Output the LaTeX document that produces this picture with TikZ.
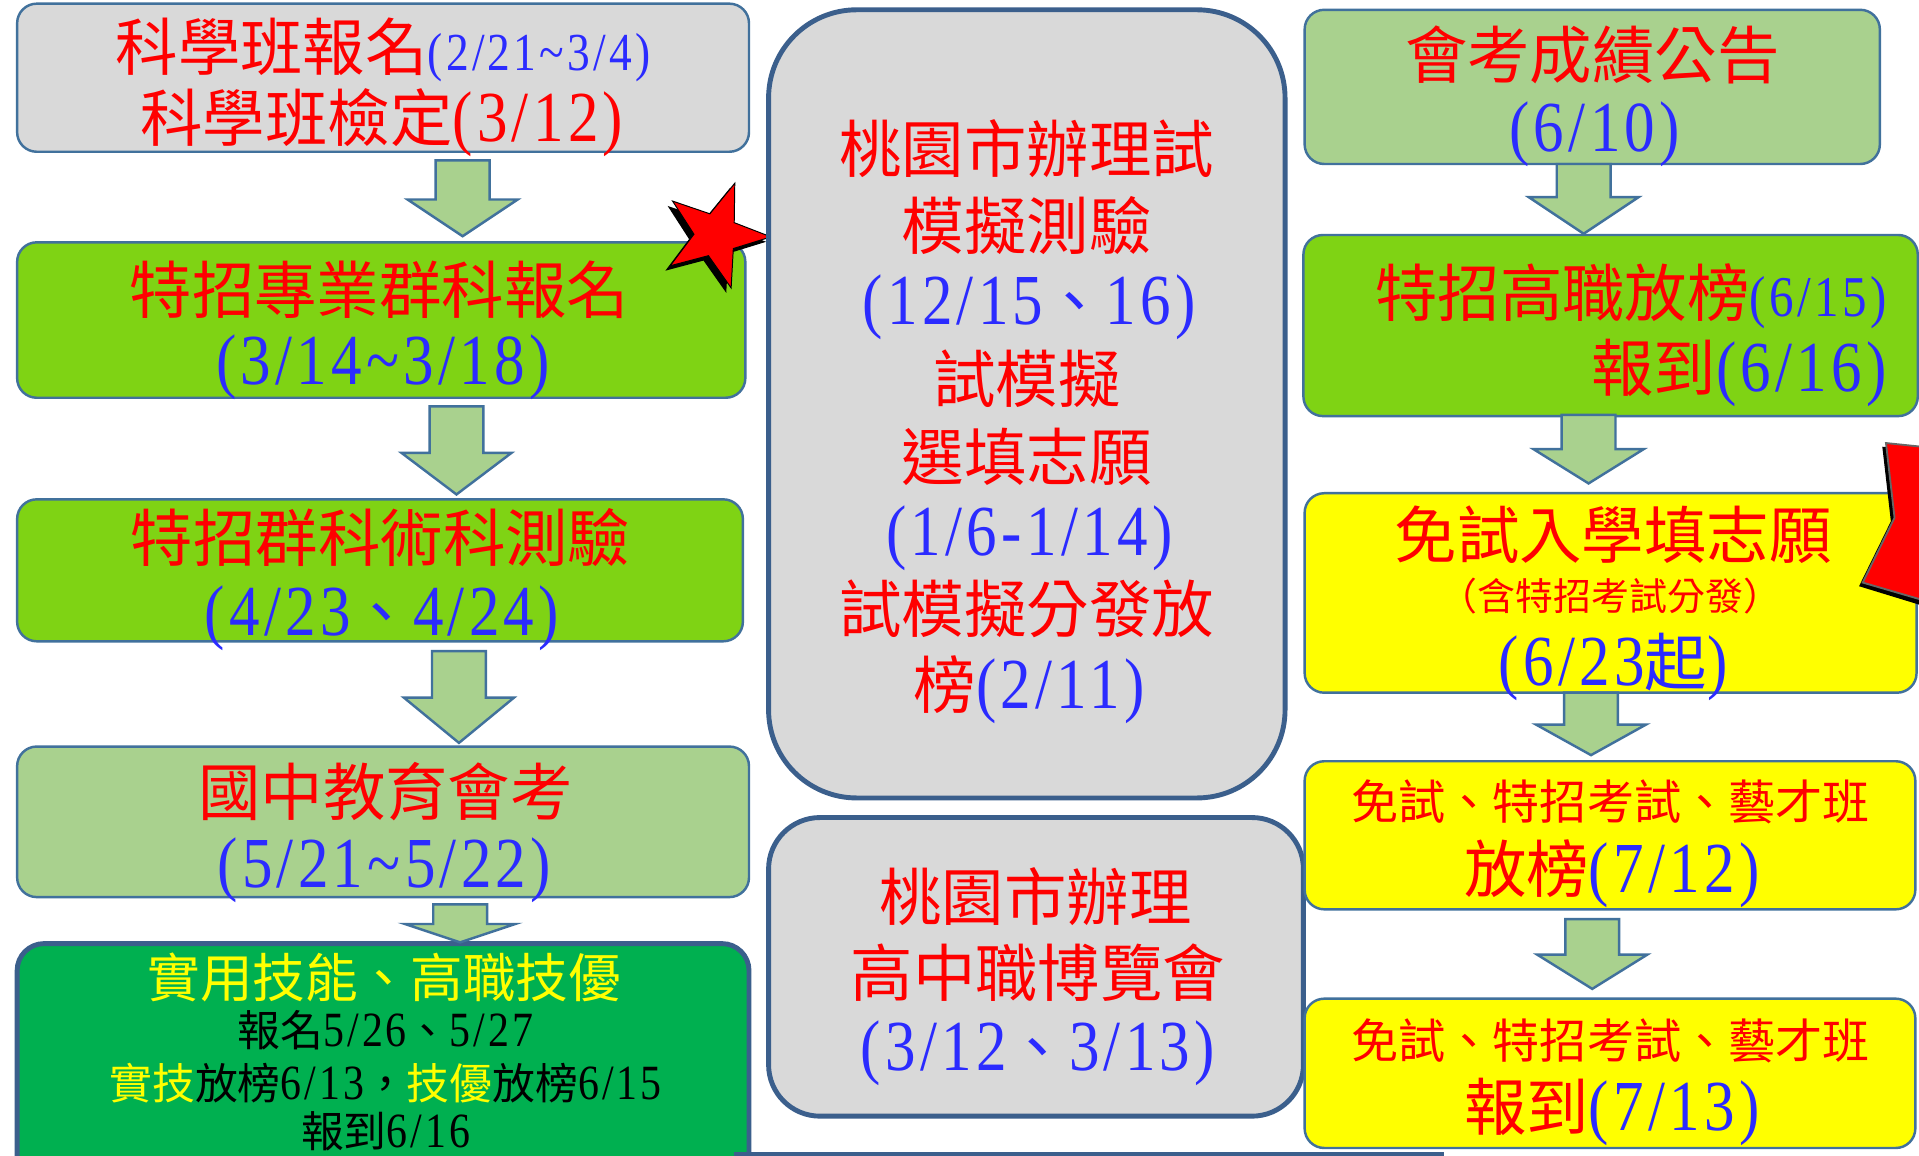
\documentclass[tikz,border=0pt]{standalone}
\usepackage{fontspec}
\setmainfont{Noto Sans CJK TC}
\newfontfamily\nf[FakeStretch=0.85,Scale=1.15,LetterSpace=6]{Liberation Serif}
\definecolor{bordc}{HTML}{41719C}
\definecolor{thickc}{HTML}{3B5F8C}
\definecolor{grayf}{HTML}{D9D9D9}
\definecolor{greenf}{HTML}{7FD314}
\definecolor{lgreenf}{HTML}{A9D18E}
\definecolor{dgreenf}{HTML}{00B050}
\definecolor{tblue}{HTML}{2B2BFF}
\definecolor{yell}{HTML}{FFFF00}
\newcommand\txr[1]{\textcolor{red}{#1}}
\newcommand\txn[1]{{\nf #1}}
\newcommand\txb[1]{\textcolor{tblue}{\nf #1}}
\newcommand\txbc[1]{\textcolor{tblue}{#1}}
\newcommand\txy[1]{\textcolor{yell}{#1}}
\newcommand\blockarrow[4]{% cx, top, headstart, tip
  \draw[barrow] (#1-22,#2) -- (#1+22,#2) -- (#1+22,#3) -- (#1+45,#3) -- (#1,#4) -- (#1-45,#3) -- (#1-22,#3) -- cycle;}
\begin{document}
\begin{tikzpicture}[x=1pt,y=-1pt,
  box/.style={draw=bordc, line width=2pt, rounded corners=16pt, inner sep=0pt, outer sep=0pt},
  bigbox/.style={draw=thickc, line width=4pt, inner sep=0pt, outer sep=0pt},
  barrow/.style={fill=lgreenf, draw=bordc, line width=2pt, line join=miter},
  tl/.style={inner sep=0pt, anchor=base, font=\fontsize{51}{60}\selectfont},
  tm/.style={inner sep=0pt, anchor=base, font=\fontsize{43}{50}\selectfont},
  tk/.style={inner sep=0pt, anchor=base, font=\fontsize{38.5}{45}\selectfont},
  ts/.style={inner sep=0pt, anchor=base, font=\fontsize{35}{40}\selectfont},
  tx/.style={inner sep=0pt, anchor=base, font=\fontsize{31}{36}\selectfont}]
\useasboundingbox (0,0) rectangle (1568,944);
\fill[white] (0,0) rectangle (1568,944);

% ---------- left column ----------
\node[box, fill=grayf, minimum width=598pt, minimum height=121pt] (b1) at (313,63.5) {};
\node[box, fill=greenf, minimum width=595pt, minimum height=127pt] (b2) at (311.5,261.5) {};
\node[box, fill=greenf, minimum width=593pt, minimum height=116pt] (b3) at (310.5,466) {};
\node[box, fill=lgreenf, minimum width=598pt, minimum height=123pt] (b4) at (313,671.5) {};
\node[bigbox, rounded corners=22pt, fill=dgreenf, minimum width=598pt, minimum height=205pt] (b5) at (313,873.5) {};

\blockarrow{378}{131}{163}{193}
\blockarrow{373}{332}{370}{404}
\blockarrow{375}{532}{570}{607}
\blockarrow{376}{739}{755}{770}

\node[tl] (b1a) at (313,58) {\txr{科學班報名}{\fontsize{38}{42}\selectfont\txb{(2/21\textasciitilde3/4)}}};
\node[tl] (b1b) at (312,116) {\txr{科學班檢定\txn{(3/12)}}};
\node[tl] (b2a) at (310,256) {\txr{特招專業群科報名}};
\node[tl] (b2b) at (313,314) {\txb{(3/14\textasciitilde3/18)}};
\node[tl] (b3a) at (311,459) {\txr{特招群科術科測驗}};
\node[tl] (b3b) at (312,519) {\txb{(4/23}\txbc{、}\txb{4/24)}};
\node[tl] (b4a) at (315,666) {\txr{國中教育會考}};
\node[tl] (b4b) at (314,725) {\txb{(5/21\textasciitilde5/22)}};
\node[tm] (b5a) at (314,815) {\txy{實用技能、高職技優}};
\node[ts] (b5b) at (315,855) {報名\txn{5/26}、\txn{5/27}};
\node[ts] (b5c) at (315,898) {\txy{實技}放榜\txn{6/13}，\txy{技優}放榜\txn{6/15}};
\node[ts] (b5d) at (315,938) {報到\txn{6/16}};

% star
\fill[black] (581,196) +(-70:45) -- +(-106:18) -- +(-142:45) -- +(-178:18) -- +(-214:45) -- +(-250:18) -- +(-286:45) -- +(-322:18) -- +(-358:45) -- +(-394:18) -- cycle;
\filldraw[fill=red, draw=black, line width=0.8pt] (585,192) +(-70:45) -- +(-106:18) -- +(-142:45) -- +(-178:18) -- +(-214:45) -- +(-250:18) -- +(-286:45) -- +(-322:18) -- +(-358:45) -- +(-394:18) -- cycle;

% ---------- center column ----------
\node[bigbox, rounded corners=72pt, fill=grayf, minimum width=422pt, minimum height=644pt] (c1) at (839,330) {};
\node[bigbox, rounded corners=42pt, fill=grayf, minimum width=437pt, minimum height=244pt] (c2) at (846.5,790) {};
\draw[thickc, line width=3pt] (600,943) -- (1180,943);

\node[tl] (c1a) at (839,141) {\txr{桃園市辦理試}};
\node[tl] (c1b) at (839,204) {\txr{模擬測驗}};
\node[tl] (c1c) at (841,265) {\txb{(12/15}\txbc{、}\txb{16)}};
\node[tl] (c1d) at (839,329) {\txr{試模擬}};
\node[tl] (c1e) at (839,393) {\txr{選填志願}};
\node[tl] (c1f) at (841,454) {\txb{(1/6-1/14)}};
\node[tl] (c1g) at (839,517) {\txr{試模擬分發放}};
\node[tl] (c1h) at (841,579) {\txr{榜}\txb{(2/11)}};

\node[tl] (c2a) at (846,752) {\txr{桃園市辦理}};
\node[tl] (c2b) at (848,814) {\txr{高中職博覽會}};
\node[tl] (c2c) at (848,875) {\txb{(3/12}\txbc{、}\txb{3/13)}};

% ---------- right column ----------
\node[box, fill=lgreenf, minimum width=470pt, minimum height=126pt] (r1) at (1301,71) {};
\node[box, fill=greenf, minimum width=502pt, minimum height=148pt] (r2) at (1316,266) {};
\node[box, fill=yell, minimum width=500pt, minimum height=163pt] (r3) at (1316,484.5) {};
\node[box, fill=yell, minimum width=499pt, minimum height=121pt] (r4) at (1315.5,682.5) {};
\node[box, fill=yell, minimum width=499pt, minimum height=122pt] (r5) at (1315.5,877) {};

\blockarrow{1294}{134}{161}{191}
\blockarrow{1298}{339}{367}{395}
\blockarrow{1300}{566}{592}{617}
\blockarrow{1301}{751}{780}{808}

\node[tl] (r1a) at (1301,64) {\txr{會考成績公告}};
\node[tl] (r1b) at (1303,124) {\txb{(6/10)}};
\node[tl, anchor=base east] (r2a) at (1542,259) {\txr{特招高職放榜}{\fontsize{41}{45}\selectfont\txb{(6/15)}}};
\node[tl, anchor=base east] (r2b) at (1542,320) {\txr{報到}\txb{(6/16)}};
\node[tl] (r3a) at (1318,456) {\txr{免試入學填志願}};
\node[tx] (r3b) at (1316,499) {\txr{（含特招考試分發）}};
\node[tl] (r3c) at (1318,560) {\txb{(6/23}\txbc{起}\txb{)}};
\node[tk] (r4a) at (1316,670) {\txr{免試、特招考試、藝才班}};
\node[tl] (r4b) at (1317,729) {\txr{放榜}\txb{(7/12)}};
\node[tk] (r5a) at (1316,865) {\txr{免試、特招考試、藝才班}};
\node[tl] (r5b) at (1317,924) {\txr{報到}\txb{(7/13)}};

% partial red shape at right edge
\fill[black] (1538,365) -- (1545,426) -- (1519,479) -- (1568,494) -- (1568,368) -- cycle;
\filldraw[fill=red, draw=black!60, line width=1.5pt] (1541,362) -- (1548,423) -- (1522,476) -- (1570,490) -- (1570,365) -- cycle;
\end{tikzpicture}
\end{document}
